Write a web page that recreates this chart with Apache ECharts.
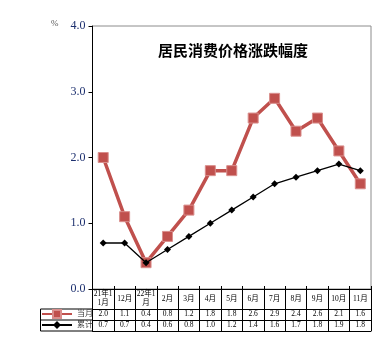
<!DOCTYPE html>
<html>
<head>
<meta charset="utf-8">
<script src="https://cdn.jsdelivr.net/npm/echarts@6/dist/echarts.min.js"></script>
<style>
  html, body { margin: 0; padding: 0; background: #fff; }
  #chart { width: 374px; height: 348px; }
</style>
</head>
<body>
<div id="chart"></div>
<script>
// Months covered by the table and the chart
const categories = ['21年11月', '12月', '22年1月', '2月', '3月', '4月', '5月', '6月', '7月', '8月', '9月', '10月', '11月'];
// Year-on-year change for the month (%)
const monthly = [2.0, 1.1, 0.4, 0.8, 1.2, 1.8, 1.8, 2.6, 2.9, 2.4, 2.6, 2.1, 1.6];
// Cumulative change since the start of the year (%)
const cumulative = [0.7, 0.7, 0.4, 0.6, 0.8, 1.0, 1.2, 1.4, 1.6, 1.7, 1.8, 1.9, 1.8];
// Value axis ticks
const yTicks = [0, 1, 2, 3, 4];

const serif = '"Liberation Serif", "Times New Roman", "Noto Sans CJK SC", serif';
const chart = echarts.init(document.getElementById('chart'), null, { renderer: 'canvas' });

const G = { left: 92.5, right: 3, top: 26, bottom: 59 };
const tableLine = { lineStyle: { color: '#000', width: 1 } };

// shared settings for the axes that form the data table under the plot
function tableAxis(offset, tickLen, labels, margin, extra) {
  return Object.assign({
    type: 'category',
    data: categories,
    position: 'bottom',
    offset: offset,
    boundaryGap: true,
    axisLine: { show: true, lineStyle: { color: '#000', width: 1 } },
    axisTick: { show: tickLen > 0, length: tickLen, inside: false, alignWithLabel: false, interval: 0, lineStyle: { color: '#000', width: 1 } },
    axisLabel: labels ? {
      show: true, interval: 0, margin: margin, verticalAlign: 'middle',
      fontFamily: serif, fontSize: 7.5, color: '#000', lineHeight: 9,
      formatter: labels
    } : { show: false },
    splitLine: { show: false }
  }, extra || {});
}

const option = {
  animation: false,
  backgroundColor: '#fff',
  title: {
    text: '居民消费价格涨跌幅度',
    left: 153, top: 38,
    textStyle: { fontFamily: '"Noto Sans CJK SC", sans-serif', fontSize: 15, fontWeight: 'bold', color: '#000' }
  },
  grid: Object.assign({ show: true, borderColor: '#8c8c8c', borderWidth: 1, containLabel: false }, G),
  legend: {
    orient: 'vertical',
    left: 41, top: 309,
    itemWidth: 30, itemHeight: 10, itemGap: 1,
    padding: 0,
    textStyle: { fontFamily: serif, fontSize: 8, color: '#3a3a3a', lineHeight: 10 },
    data: ['当月', '累计']
  },
  xAxis: [
    tableAxis(0, 20, function (v) { return v.length > 4 ? v.slice(0, 4) + '\n' + v.slice(4) : v; }, 10),
    tableAxis(20, 11, function (v, i) { return monthly[i].toFixed(1); }, 5.5),
    tableAxis(31, 11, function (v, i) { return cumulative[i].toFixed(1); }, 5.5),
    tableAxis(42, 0, null, 0),
    // short inner ticks along the plot's base line
    tableAxis(0, 3, null, 0, { axisTick: { show: true, inside: true, length: 3, interval: 0, lineStyle: { color: '#000' } }, axisLine: { show: false } })
  ],
  yAxis: {
    type: 'value',
    min: yTicks[0], max: yTicks[yTicks.length - 1], interval: 1,
    axisLine: { show: true, lineStyle: { color: '#000', width: 1 } },
    axisTick: { show: true, length: 4, lineStyle: { color: '#000' } },
    axisLabel: { margin: 7, fontFamily: serif, fontSize: 12, color: '#1c2f6e', formatter: function (v) { return v.toFixed(1); } },
    splitLine: { show: false }
  },
  series: [
    {
      name: '当月', type: 'line', data: monthly,
      symbol: 'rect', symbolSize: 10,
      lineStyle: { color: '#C0504D', width: 3.5 },
      itemStyle: { color: '#C0504D', borderColor: '#d98e8c', borderWidth: 1 },
      z: 3
    },
    {
      name: '累计', type: 'line', data: cumulative,
      symbol: 'diamond', symbolSize: [7, 7],
      lineStyle: { color: '#000', width: 1.3 },
      itemStyle: { color: '#000' },
      z: 4
    }
  ],
  graphic: []
};

chart.setOption(option);

// borders of the legend cells at the left of the table
const rowTop = chart.convertToPixel({ gridIndex: 0 }, [0, 0])[1] + 20;
const x0 = 40.5, x1 = G.left;
const lines = [
  { shape: { x1: x0, y1: rowTop, x2: x1, y2: rowTop } },
  { shape: { x1: x0, y1: rowTop + 11, x2: x1, y2: rowTop + 11 } },
  { shape: { x1: x0, y1: rowTop + 22, x2: x1, y2: rowTop + 22 } },
  { shape: { x1: x0, y1: rowTop, x2: x0, y2: rowTop + 22 } },
  { shape: { x1: x1, y1: rowTop, x2: x1, y2: rowTop + 22 } }
].map(function (l) { return Object.assign({ type: 'line', style: { stroke: '#000', lineWidth: 1 }, silent: true }, l); });
lines.push({
  type: 'text', left: 51, top: 19,
  style: { text: '%', fontFamily: serif, fontSize: 9, fill: '#555' }
});
chart.setOption({ graphic: lines });
</script>
</body>
</html>
